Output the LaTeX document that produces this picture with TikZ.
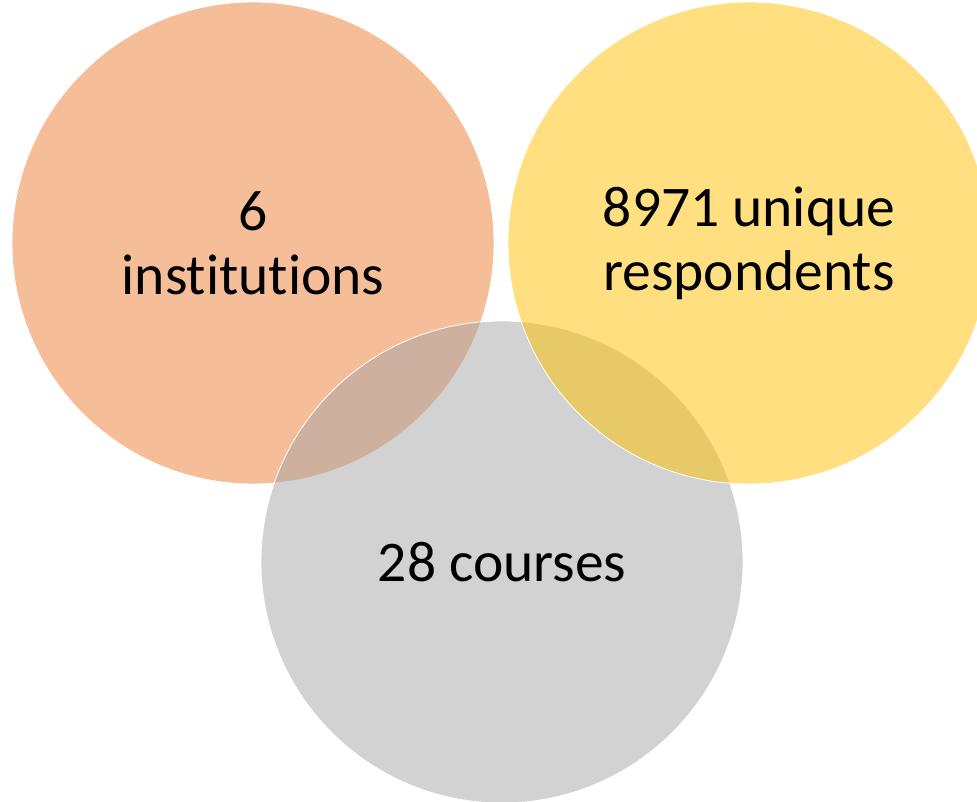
\documentclass[tikz,border=0pt]{standalone}
\usepackage{fontspec}
\setmainfont[Ligatures=NoCommon]{Carlito}
\usepackage{tikz}

\definecolor{accorange}{HTML}{ED7D31}
\definecolor{accyellow}{HTML}{FFC000}
\definecolor{accgray}{HTML}{A5A5A5}

\begin{document}
\begin{tikzpicture}[x=1pt,y=-1pt]
\tikzstyle{every node}+=[inner sep=0pt]
\tikzstyle{venn}=[circle,minimum size=482pt,draw=white,line width=0.8pt,
  fill opacity=0.5,text opacity=1,align=center,
  font=\fontsize{57.5}{64}\selectfont]
\useasboundingbox (0,0) rectangle (977,802);
\clip (0,0) rectangle (977,802);
\node [venn,fill=accorange] (inst) at (253,243) {6\\institutions};
\node [venn,fill=accgray] (course) at (502,562) {28 courses};
\node [venn,fill=accyellow] (resp) at (749,243) {8971 unique\\respondents};
\end{tikzpicture}
\end{document}
